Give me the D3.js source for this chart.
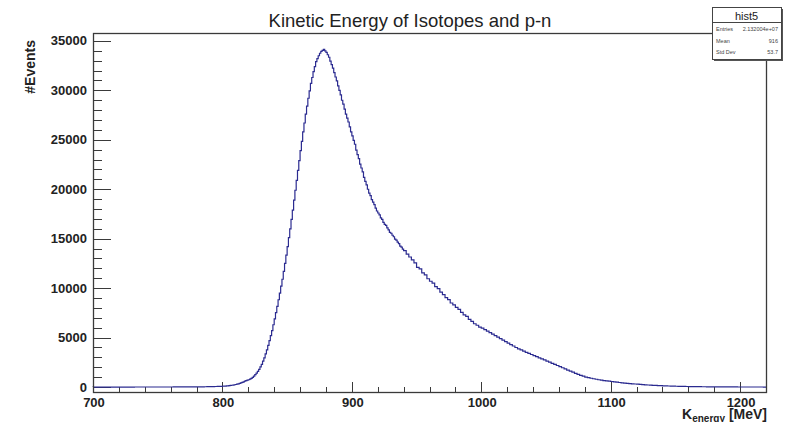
<!DOCTYPE html>
<html>
<head>
<meta charset="utf-8">
<script src="https://cdn.jsdelivr.net/npm/d3@7"></script>
<style>
  body { margin: 0; background: #fff; }
  text { font-family: "Liberation Sans", Arial, sans-serif; }
</style>
</head>
<body>
<div id="chart"></div>
<script>
// low tail: 2 MeV bins, 700 - 800 MeV
var lowTail = [
    1, 1, 2, 1, 2, 2, 2, 2, 2, 2,
    2, 3, 3, 3, 3, 3, 4, 4, 4, 4,
    4, 4, 5, 5, 5, 6, 6, 7, 7, 8,
    8, 9, 10, 11, 12, 13, 14, 15, 17, 18,
    20, 23, 27, 31, 36, 41, 47, 54, 62, 71
]
// peak region: 1 MeV bins, 800 - 940 MeV
var peak = [
    80, 90, 100, 112, 125, 142, 160, 182, 205, 232,
    260, 295, 330, 375, 420, 475, 530, 595, 660, 700,
    740, 800, 870, 980, 1100, 1250, 1400, 1590, 1780, 2040,
    2300, 2620, 2950, 3350, 3750, 4220, 4700, 5200, 5700, 6300,
    6900, 7520, 8150, 8830, 9500, 10200, 10900, 11700, 12500, 13350,
    14200, 15100, 16000, 16950, 17900, 18900, 19900, 20900, 21900, 22900,
    23900, 24850, 25800, 26700, 27600, 28400, 29200, 29950, 30700, 31300,
    31900, 32400, 32900, 33200, 33500, 33750, 33950, 34050, 34150, 34000,
    33850, 33600, 33350, 32950, 32600, 32250, 31800, 31350, 30950, 30450,
    30000, 29550, 29000, 28600, 28100, 27600, 27200, 26800, 26300, 25800,
    25400, 24950, 24550, 23950, 23500, 23100, 22550, 22150, 21750, 21200,
    20800, 20450, 20000, 19600, 19350, 18950, 18700, 18450, 18100, 17800,
    17600, 17400, 17100, 16950, 16650, 16450, 16350, 16100, 15900, 15650,
    15550, 15350, 15200, 14950, 14850, 14650, 14500, 14250, 14150, 13950
]
// high tail: 2 MeV bins, 940 - 1220 MeV
var highTail = [
    13800, 13450, 13150, 12850, 12550, 12100, 11950, 11550, 11350, 10950,
    10700, 10500, 10150, 9950, 9600, 9350, 9050, 8850, 8500, 8300,
    8050, 7850, 7550, 7300, 7150, 6850, 6650, 6400, 6250, 6050,
    5950, 5800, 5650, 5500, 5350, 5200, 5050, 4900, 4750, 4600,
    4450, 4300, 4150, 4000, 3870, 3750, 3630, 3510, 3400, 3290,
    3180, 3070, 2960, 2850, 2740, 2630, 2520, 2400, 2290, 2180,
    2060, 1950, 1830, 1720, 1610, 1500, 1390, 1290, 1190, 1100,
    1010, 950, 890, 840, 790, 740, 700, 660, 620, 590,
    560, 520, 490, 460, 430, 400, 380, 350, 330, 310,
    290, 270, 250, 230, 210, 195, 180, 165, 150, 140,
    128, 117, 107, 98, 90, 82, 75, 68, 62, 57,
    52, 47, 43, 39, 35, 32, 29, 26, 24, 22,
    20, 18, 16, 15, 13, 12, 11, 10, 9, 8,
    8, 7, 6, 6, 5, 5, 4, 4, 4, 3
]
var segments = [
    { start: 700, width: 2, counts: lowTail },
    { start: 800, width: 1, counts: peak },
    { start: 940, width: 2, counts: highTail }
]
var xTicks = [700, 800, 900, 1000, 1100, 1200]
var yTicks = [0, 5000, 10000, 15000, 20000, 25000, 30000, 35000]
var statNames = ["Entries", "Mean", "Std Dev"]
var statValues = ["2.132004e+07", "916", "53.7"]

var W = 795, H = 422
var margin = { left: 93, right: 766, top: 33, bottom: 392 }

var svg = d3.select("#chart").append("svg")
    .attr("width", W).attr("height", H)

var x = d3.scaleLinear().domain([700, 1220]).range([margin.left, margin.right])
var y = d3.scaleLinear().domain([-500, 35800]).range([margin.bottom, margin.top])

var axisCol = "#3a3a3a"

// y axis ticks (inward, to the right)
var yMinor = d3.range(0, 35800, 1000)
svg.selectAll(".ymin").data(yMinor).enter().append("line")
    .attr("x1", margin.left).attr("x2", d => margin.left + (d % 5000 == 0 ? 18 : 9))
    .attr("y1", d => Math.round(y(d)) + 0.5).attr("y2", d => Math.round(y(d)) + 0.5)
    .attr("stroke", axisCol).attr("stroke-width", 1)
svg.selectAll(".ylab").data(yTicks).enter().append("text")
    .attr("x", 87).attr("y", d => y(d) + 4.5)
    .attr("text-anchor", "end").attr("font-size", 13).attr("font-weight", "bold")
    .attr("fill", "#222").text(d => d)

// x axis ticks (inward, upward)
var xMinor = d3.range(700, 1221, 20)
svg.selectAll(".xmin").data(xMinor).enter().append("line")
    .attr("x1", d => Math.round(x(d)) + 0.5).attr("x2", d => Math.round(x(d)) + 0.5)
    .attr("y1", margin.bottom).attr("y2", d => margin.bottom - (d % 100 == 0 ? 10 : 5))
    .attr("stroke", axisCol).attr("stroke-width", 1)
svg.selectAll(".xlab").data(xTicks).enter().append("text")
    .attr("x", d => x(d) + 1).attr("y", 407)
    .attr("text-anchor", "middle").attr("font-size", 13).attr("font-weight", "bold")
    .attr("fill", "#222").text(d => d)

// histogram outline as steps
var pts = [[700, 0]]
segments.forEach(s => {
    s.counts.forEach((c, i) => {
        pts.push([s.start + i * s.width, c])
        pts.push([s.start + (i + 1) * s.width, c])
    })
})
var line = d3.line().x(d => x(d[0])).y(d => y(d[1]))
svg.append("path").datum(pts)
    .attr("d", line)
    .attr("fill", "none").attr("stroke", "#2b2b90").attr("stroke-width", 1.2)

// frame
svg.append("rect")
    .attr("x", margin.left + 0.5).attr("y", margin.top + 0.5)
    .attr("width", margin.right - margin.left).attr("height", margin.bottom - margin.top)
    .attr("fill", "none").attr("stroke", axisCol).attr("stroke-width", 1.3)

// title
svg.append("text").attr("x", 410).attr("y", 27)
    .attr("text-anchor", "middle").attr("font-size", 18.5)
    .attr("fill", "#222").text("Kinetic Energy of Isotopes and p-n")

// axis titles
svg.append("text").attr("transform", "translate(35,40) rotate(-90)")
    .attr("text-anchor", "end").attr("font-size", 14).attr("font-weight", "bold")
    .attr("fill", "#222").text("#Events")
var xt = svg.append("text").attr("x", 767).attr("y", 419)
    .attr("text-anchor", "end").attr("font-size", 14).attr("font-weight", "bold")
    .attr("fill", "#222")
xt.append("tspan").text("K")
xt.append("tspan").attr("font-size", 10).attr("dy", 3).text("energy")
xt.append("tspan").attr("dy", -3).text(" [MeV]")

// stats box
var bx = 712, by = 7, bw = 69, bh = 52
svg.append("rect").attr("x", bx + 2).attr("y", by + 2).attr("width", bw).attr("height", bh)
    .attr("fill", "#555")
svg.append("rect").attr("x", bx + 0.5).attr("y", by + 0.5).attr("width", bw).attr("height", bh)
    .attr("fill", "#fff").attr("stroke", "#444").attr("stroke-width", 1)
svg.append("line").attr("x1", bx).attr("x2", bx + bw).attr("y1", by + 15.5).attr("y2", by + 15.5)
    .attr("stroke", "#444")
svg.append("text").attr("x", bx + bw / 2).attr("y", by + 12.5)
    .attr("text-anchor", "middle").attr("font-size", 11).attr("fill", "#222").text("hist5")
statNames.forEach((n, i) => {
    var yy = by + 24 + i * 11.5
    svg.append("text").attr("x", bx + 4).attr("y", yy)
        .attr("font-size", 5.5).attr("fill", "#444").text(n)
    svg.append("text").attr("x", bx + bw - 3).attr("y", yy)
        .attr("text-anchor", "end").attr("font-size", 5.5).attr("fill", "#444").text(statValues[i])
})
</script>
</body>
</html>
